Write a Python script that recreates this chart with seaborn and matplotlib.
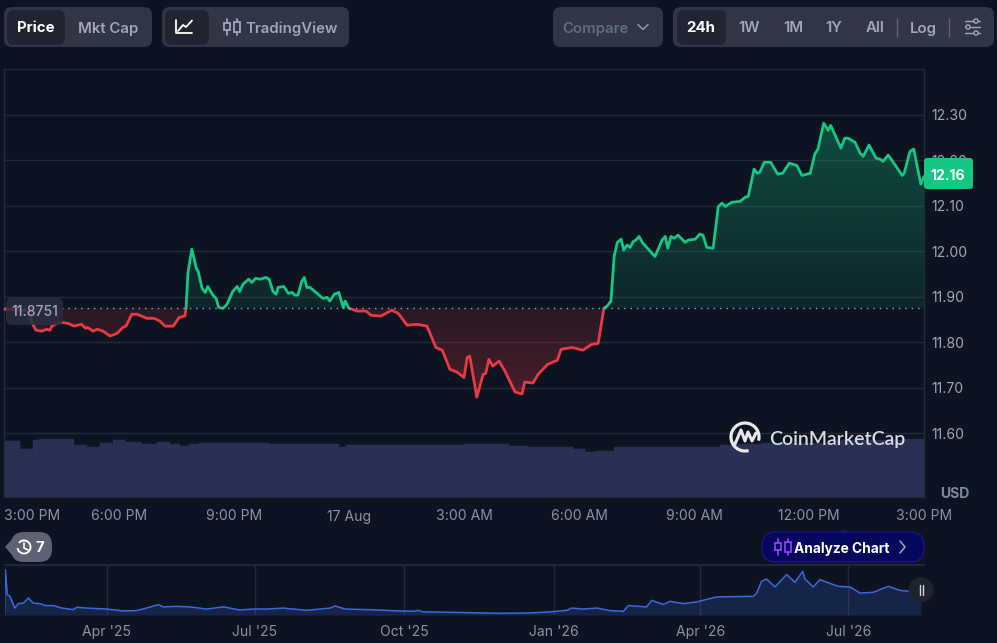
import numpy as np
import pandas as pd
import seaborn as sns
import matplotlib
matplotlib.use("Agg")
import matplotlib.pyplot as plt
from matplotlib.patches import FancyBboxPatch, Circle, Arc, Rectangle, Polygon
from matplotlib.path import Path

BASE_PRICE = 11.8751
LAST_PRICE = "12.16"

minutes = [0, 38, 45, 50, 59, 67, 72, 75, 83, 91, 100, 110, 121, 128, 131, 139, 146, 155, 166, 177, 186, 191, 200, 208, 224, 235, 244, 252, 265, 274, 283, 285,
           288, 294, 301, 304, 310, 315, 319, 327, 332, 336, 343, 349, 358, 365, 369, 374, 383, 388, 394, 401, 410, 415, 421, 426, 429, 438, 445, 451, 455, 460, 466, 470, 474, 479, 499, 506, 510, 517, 524, 531, 534, 540,
           553, 567, 574, 590, 607, 617, 631, 646, 662, 676, 686, 698, 709, 720, 725, 729, 740, 750, 754, 759, 765, 775, 784, 800, 811, 815, 828, 836, 851, 866, 872, 889, 906, 920, 930, 939,
           944, 950, 955, 960, 966, 970, 975, 980, 985, 989, 994, 1000, 1019, 1030, 1035, 1039, 1044, 1049, 1055, 1066, 1071, 1082, 1089, 1094, 1100, 1110, 1118, 1124, 1129, 1139, 1152, 1160, 1165, 1174, 1179, 1183, 1190, 1200, 1211, 1219, 1229, 1241, 1249, 1262, 1269, 1274, 1283, 1290, 1294, 1310, 1316, 1321, 1332, 1340, 1345, 1354, 1365, 1371, 1376, 1384, 1406, 1409, 1418, 1424, 1435, 1440]
prices = [11.874, 11.869, 11.840, 11.827, 11.825, 11.829, 11.827, 11.836, 11.842, 11.844, 11.842, 11.836, 11.840, 11.831, 11.833, 11.825, 11.829, 11.825, 11.814, 11.820, 11.833, 11.836, 11.862, 11.862, 11.853, 11.853, 11.847, 11.836, 11.836, 11.855, 11.858, 11.8751,
          11.954, 12.005, 11.963, 11.956, 11.919, 11.910, 11.923, 11.904, 11.897, 11.877, 11.8751, 11.884, 11.912, 11.923, 11.912, 11.928, 11.939, 11.932, 11.941, 11.939, 11.943, 11.939, 11.912, 11.906, 11.921, 11.923, 11.908, 11.910, 11.904, 11.904, 11.934, 11.943, 11.921, 11.921, 11.897, 11.899, 11.891, 11.906, 11.910, 11.877, 11.891, 11.8751,
          11.869, 11.869, 11.860, 11.858, 11.871, 11.864, 11.838, 11.840, 11.836, 11.789, 11.783, 11.741, 11.735, 11.723, 11.767, 11.770, 11.680, 11.730, 11.732, 11.763, 11.748, 11.759, 11.737, 11.691, 11.687, 11.713, 11.711, 11.730, 11.752, 11.761, 11.785, 11.789, 11.783, 11.796, 11.798, 11.8751,
          11.880, 11.891, 11.989, 12.020, 12.027, 12.003, 12.014, 12.009, 12.022, 12.025, 12.033, 12.018, 11.989, 12.025, 12.033, 12.007, 12.033, 12.029, 12.036, 12.020, 12.025, 12.027, 12.038, 12.036, 12.009, 12.007, 12.099, 12.106, 12.099, 12.108, 12.110, 12.119, 12.121, 12.181, 12.172, 12.174, 12.196, 12.196, 12.170, 12.172, 12.194, 12.189, 12.167, 12.172, 12.214, 12.225, 12.282, 12.266, 12.277, 12.227, 12.249, 12.249, 12.240, 12.216, 12.209, 12.234, 12.205, 12.203, 12.198, 12.212, 12.167, 12.172, 12.220, 12.225, 12.148, 12.165]

# Relative volume, step levels and how many 5-minute bars hold each level
volume_levels = [55.7, 48.4, 57, 58, 51.7, 50, 54.4, 56.7, 55, 53.4, 55.4, 53.4, 51, 53.4, 54.4, 53, 50, 51.7, 53,
                 53, 51, 50, 50.5, 48.4, 45, 46, 49.7, 50.4, 51.7, 53.4, 54.4, 56.7, 58.4]
volume_runs = [5, 4, 2, 11, 4, 4, 4, 4, 5, 5, 4, 3, 3, 3, 22, 22, 2, 37, 11,
               3, 6, 9, 5, 4, 3, 6, 17, 16, 5, 8, 23, 21, 7]

y_ticks = [11.60, 11.70, 11.80, 11.90, 12.00, 12.10, 12.20, 12.30]
x_ticks = [0, 180, 360, 540, 720, 900, 1080, 1260, 1440]
x_labels = ["3:00 PM", "6:00 PM", "9:00 PM", "17 Aug", "3:00 AM", "6:00 AM", "9:00 AM", "12:00 PM", "3:00 PM"]

mini_start = "2025-01-28"
mini_days = [0, 0.5, 1.7, 3.4, 6.3, 8.5, 11.6, 14.7, 17.7, 21.8, 24.9, 30, 35.2, 42.3, 44.4, 50.5, 62.8, 73.1, 81.3, 87.4, 94.6, 97.7, 105.9, 114, 124.3, 134.6, 144.8, 153, 161.2, 171.5, 185.8, 200.2, 203.3, 209.4, 222.7, 237, 251.4, 254.5, 257.6, 274, 304.7,
             321.1, 335.5, 345.7, 348.8, 356, 364.2, 372.4, 380.6, 383.7, 394.9, 398, 405.2, 409.3, 417.5, 425.7, 438, 460.5, 462.6, 465.6, 468.7, 473.9, 481, 486.2, 490.9, 492.3, 497.4, 501.5, 509.7, 512.8, 520, 526.1, 534.3, 543.6, 550.7, 558.5, 563.6]
mini_price = [0.2, 23.6, 10.6, 9.7, 3.6, 5.9, 6.2, 8.8, 6.2, 5.9, 4.9, 4.9, 3.6, 2.8, 4.0, 3.6, 3.1, 2.1, 2.3, 3.6, 5.4, 4.2, 4.5, 4.2, 3.1, 4.2, 2.6, 3.1, 3.1, 3.6, 2.4, 3.6, 4.7, 3.1, 2.8, 2.3, 1.9, 2.4, 1.6, 1.4, 0.9,
              1.0, 1.6, 2.4, 3.6, 3.1, 3.6, 2.3, 1.9, 4.9, 4.2, 7.6, 5.5, 7.1, 5.9, 6.8, 9.4, 9.7, 11.4, 17.5, 18.7, 14.6, 21.0, 17.0, 22.7, 18.7, 14.6, 18.4, 15.8, 14.9, 14.6, 11.4, 11.8, 14.9, 12.8, 12.1, 12.16]
mini_tick_dates = ["2025-04-01", "2025-07-01", "2025-10-01", "2026-01-01", "2026-04-01", "2026-07-01"]
mini_tick_labels = ["Apr '25", "Jul '25", "Oct '25", "Jan '26", "Apr '26", "Jul '26"]

BG = "#0d1421"
GRID = "#232a3a"
GREEN = "#16c784"
RED = "#ea3943"
LABEL = "#a1a7bb"
XLABEL = "#8a92a6"
BTN = "#323546"
BTN_ON = "#222531"
VOL = "#2a3357"
BLUE = "#3f68e0"

sns.set_theme(style="dark", rc={"axes.facecolor": BG, "figure.facecolor": BG})
plt.rcParams["font.family"] = ["Inter", "DejaVu Sans"]
W, H = 997, 643
fig = plt.figure(figsize=(W / 100, H / 100), dpi=100, facecolor=BG)
FS = 14 * 0.72
BTN_FS = FS * 1.07


def rect(x0, y0, x1, y1):
    return [x0 / W, 1 - y1 / H, (x1 - x0) / W, (y1 - y0) / H]


# Volume
ax_vol = fig.add_axes(rect(4, 69, 924, 497), zorder=1)
vol = np.repeat(volume_levels, volume_runs)
vol_t = (np.arange(len(vol)) + 0.5) * 5
sns.barplot(x=vol_t, y=vol, native_scale=True, color=VOL, saturation=1, width=1.0,
            edgecolor="#252d4e", linewidth=0.35, ax=ax_vol)
ax_vol.set_xlim(0, 1440)
ax_vol.set_ylim(0, 428)
ax_vol.axis("off")

# Price
ax = fig.add_axes(rect(4, 69, 924, 497), zorder=2)
ax.patch.set_alpha(0)
df = pd.DataFrame({"minute": minutes, "price": prices})
side = np.where(df["price"] > BASE_PRICE, "up", np.where(df["price"] < BASE_PRICE, "down", "base"))
side = pd.Series(side).replace("base", np.nan).ffill().bfill().to_numpy()
run = np.cumsum(np.r_[0, side[1:] != side[:-1]])
parts = []
for r in np.unique(run):
    idx = np.where(run == r)[0]
    if idx[0] > 0:
        idx = np.r_[idx[0] - 1, idx]
    parts.append(df.iloc[idx].assign(side=side[run == r][0], run=r))
lines = pd.concat(parts, ignore_index=True)
sns.lineplot(data=lines, x="minute", y="price", hue="side", units="run", estimator=None,
             palette={"up": GREEN, "down": RED}, legend=False, linewidth=2.0, ax=ax, zorder=4)


def gradient(color, lo, hi, a_lo, a_hi, mask):
    poly = ax.fill_between(df["minute"], df["price"], BASE_PRICE, where=mask, interpolate=True,
                           facecolor="none", edgecolor="none")
    path = Path.make_compound_path(*poly.get_paths())
    rgba = np.zeros((256, 1, 4))
    rgba[..., :3] = matplotlib.colors.to_rgb(color)
    rgba[:, 0, 3] = np.linspace(a_lo, a_hi, 256)
    im = ax.imshow(rgba, extent=[0, 1440, lo, hi], origin="lower", aspect="auto", zorder=2)
    im.set_clip_path(path, transform=ax.transData)


gradient(GREEN, BASE_PRICE, 12.30, 0.10, 0.32, df["price"] >= BASE_PRICE)
gradient(RED, 11.68, BASE_PRICE, 0.27, 0.13, df["price"] <= BASE_PRICE)
ax.axhline(BASE_PRICE, color=LABEL, lw=1.0, ls=(0, (1, 3.6)), zorder=5)

ax.set_xlim(0, 1440)
ax.set_ylim(11.4604, 12.401)
ax.set_xlabel("")
ax.set_ylabel("")
ax.yaxis.tick_right()
ax.set_yticks(y_ticks, [f"{v:.2f}" for v in y_ticks])
ax.set_xticks(x_ticks, x_labels)
ax.tick_params(axis="y", length=0, pad=5.4, labelsize=FS, labelcolor=LABEL)
ax.tick_params(axis="x", length=0, pad=9, labelsize=FS, labelcolor=XLABEL)
ax.get_xticklabels()[0].set_ha("left")
ax.grid(False)
ax.grid(True, axis="y", color=GRID, lw=1.0)
ax.set_axisbelow(True)
for s in ax.spines.values():
    s.set_color(GRID)
    s.set_linewidth(1.0)

# Overview strip
ax_mini = fig.add_axes(rect(4.5, 565, 924, 615), zorder=2)
ax_mini.patch.set_alpha(0)
mini_dates = pd.Timestamp(mini_start) + pd.to_timedelta(mini_days, unit="D")
sns.lineplot(x=mini_dates, y=mini_price, color=BLUE, linewidth=1.1, ax=ax_mini, zorder=3)
ax_mini.fill_between(mini_dates, mini_price, 0, color=BLUE, alpha=0.2, linewidth=0, zorder=2)
ax_mini.set_xlim(pd.Timestamp(mini_start), pd.Timestamp(mini_start) + pd.Timedelta(days=565.5))
ax_mini.set_ylim(0, 26)
ax_mini.set_yticks([])
ax_mini.set_xlabel("")
ax_mini.set_ylabel("")
ax_mini.set_xticks(pd.to_datetime(mini_tick_dates), mini_tick_labels)
ax_mini.tick_params(axis="x", length=0, pad=7.2, labelsize=FS, labelcolor=XLABEL)
ax_mini.grid(False)
ax_mini.grid(True, axis="x", color=GRID, lw=1.0)
ax_mini.set_axisbelow(True)
for k, s in ax_mini.spines.items():
    s.set_visible(k == "top")
    s.set_color(GRID)

# Interface overlay in pixel space
ui = fig.add_axes([0, 0, 1, 1], zorder=5)
ui.set_xlim(0, W)
ui.set_ylim(H, 0)
ui.axis("off")


def box(x0, y0, x1, y1, color, r=8, **kw):
    ui.add_patch(FancyBboxPatch((x0 + r, y0 + r), x1 - x0 - 2 * r, y1 - y0 - 2 * r,
                                boxstyle=f"round,pad={r},rounding_size={r}", fc=color, ec=kw.pop("ec", "none"),
                                lw=kw.pop("lw", 0), **kw))


def label(x, y, s, color=LABEL, weight="semibold", size=BTN_FS, ha="center"):
    ui.text(x, y, s, color=color, fontsize=size, fontweight=weight, ha=ha, va="center_baseline")


def candle(cx, cy, color, lw=1.3):
    for dx, h in ((-5, 5), (5, 7)):
        ui.plot([cx + dx, cx + dx], [cy - 8, cy + 8], color=color, lw=lw)
        ui.add_patch(Rectangle((cx + dx - 3, cy - h / 1.4), 6, h * 1.4, fc=BTN if color != "#9945ff" else "#05085c",
                               ec=color, lw=lw, zorder=3))


box(4, 7, 152, 47, BTN)
box(7, 10, 65, 45, BTN_ON, r=7)
label(36, 27, "Price", "white", "bold")
label(108, 27, "Mkt Cap")
box(162, 7, 349, 47, BTN)
box(165, 10, 209, 45, BTN_ON, r=7)
ui.plot([176, 176, 192], [20, 33, 33], color="white", lw=1.3)
ui.plot([178, 183, 186, 192], [31, 25, 27, 20.5], color="white", lw=1.3)
candle(232, 27, LABEL)
label(292, 27, "TradingView")
box(553, 7, 663, 47, BTN)
label(595, 27, "Compare", "#616e85")
ui.plot([638, 643, 648], [24.5, 29.5, 24.5], color="#8a92a6", lw=1.2)
box(673, 7, 994, 47, BTN)
box(677, 10, 726, 45, BTN_ON, r=7)
label(701, 27, "24h", "white", "bold")
for x, s in ((749, "1W"), (793, "1M"), (834, "1Y"), (875, "All"), (923, "Log")):
    label(x, 27, s)
for x in (897, 949):
    ui.plot([x, x], [18, 36.5], color="#5a6072", lw=1)
for y, x in ((21, 976), (27, 968), (33, 976)):
    ui.plot([965, 980], [y, y], color=LABEL, lw=1.0)
    ui.add_patch(Circle((x, y), 2.1, fc=BTN, ec=LABEL, lw=1.0, zorder=3))

box(924, 158, 973, 189, GREEN, r=3)
label(948, 175, LAST_PRICE, "white", "bold", FS)
label(955, 492, "USD", "#808a9d", "bold", FS)
box(6, 298, 63, 325, "#2a2e3e", r=6, alpha=0.85)
label(35, 311, "11.8751", LABEL, "medium", FS)
ui.add_patch(Circle((5, 309.5), 1.4, fc=RED, ec="none"))

# Watermark
ui.add_patch(Arc((745, 437), 28, 28, theta1=75, theta2=15, color="#e6e8ee", lw=2.3))
ui.plot([735, 741, 745, 748, 752, 756], [444, 430, 441, 432, 441, 433], color="#e6e8ee", lw=2.2, solid_joinstyle="round")
ui.text(769, 438, "CoinMarketCap", color="#d9dbe3", fontsize=14.0, fontweight="semibold", family=["Lato", "DejaVu Sans"],
        ha="left", va="center_baseline")

# Analyse and history pills
box(762, 532, 924, 562, "#05085c", r=14, ec="#1f1285", lw=1)
ui.add_patch(Polygon([[838, 532], [843, 529.5], [848, 532]], fc="#1f1285", ec="none"))
candle(783, 547, "#9945ff", lw=1.2)
label(842, 547, "Analyze Chart", "white", "bold", FS * 0.98)
ui.plot([900, 905, 900], [541, 547, 553], color=LABEL, lw=1.1)
box(11, 532, 52, 562, "#5d6375", r=13)
ui.add_patch(Polygon([[5, 547], [13, 538], [13, 556]], fc="#5d6375", ec="none"))
ui.add_patch(Arc((24, 547), 13, 13, theta1=-140, theta2=170, color="white", lw=1.4))
ui.plot([24, 24, 28], [543, 548, 550], color="white", lw=1.2)
label(40, 547, "7", "white", "bold")

# Range handle
ui.add_patch(Circle((921, 590), 12.5, fc="#1f2330", ec="none"))
ui.plot([919.5, 919.5], [585, 595], color="#d0d3dc", lw=1)
ui.plot([922.5, 922.5], [585, 595], color="#d0d3dc", lw=1)

fig.savefig("out.png", dpi=100, facecolor=BG)
